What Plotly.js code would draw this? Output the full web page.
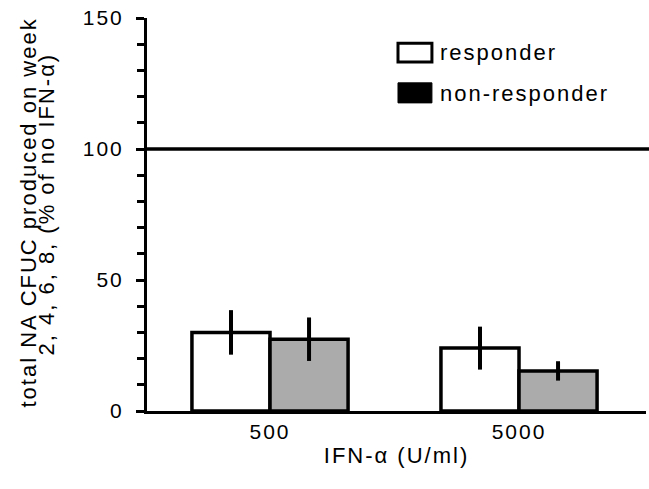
<!DOCTYPE html>
<html>
<head>
<meta charset="utf-8">
<script src="https://cdn.plot.ly/plotly-3.0.1.min.js"></script>
<style>
  html, body { margin: 0; padding: 0; background: #fff; }
  #chart { width: 649px; height: 489px; }
  svg text { letter-spacing: 2px !important; }
</style>
</head>
<body>
<div id="chart"></div>
<script>
// ---- data ----
const doses = ['500', '5000'];
const seriesNames = ['responder', 'non-responder'];
const responder = [30.0, 24.0];
const responderErr = [8.5, 8.2];
const nonResponder = [27.4, 15.3];
const nonResponderErr = [8.3, 3.7];
const yTickVals = [0, 50, 100, 150];
const referenceLevel = 100;
const yTitleLines = ['total NA CFUC produced on week', '2, 4, 6, 8, (% of no IFN-α)'];
const xTitle = 'IFN-α (U/ml)';

const FONT = 'Liberation Sans, Arial, Helvetica, sans-serif';

const traces = [
  {
    type: 'bar',
    name: seriesNames[0],
    x: doses,
    y: responder,
    error_y: { type: 'data', array: responderErr, visible: true, color: '#000', thickness: 4, width: 0 },
    marker: { color: '#ffffff', line: { color: '#000', width: 3.5 } },
    showlegend: false
  },
  {
    type: 'bar',
    name: seriesNames[1],
    x: doses,
    y: nonResponder,
    error_y: { type: 'data', array: nonResponderErr, visible: true, color: '#000', thickness: 4, width: 0 },
    marker: {
      color: '#a8a8a8',
      line: { color: '#000', width: 3.5 },
      pattern: { shape: '.', fgcolor: '#7a7a7a', bgcolor: '#d2d2d2', size: 2, solidity: 0.5 }
    },
    showlegend: false
  }
];

const layout = {
  width: 649,
  height: 489,
  margin: { l: 147, r: 3, t: 18, b: 78 },
  paper_bgcolor: '#fff',
  plot_bgcolor: '#fff',
  font: { family: FONT, color: '#000', size: 22 },
  barmode: 'group',
  bargap: 0.373,
  bargroupgap: 0,
  xaxis: {
    type: 'category',
    range: [-0.494, 1.51],
    showline: true, linecolor: '#000', linewidth: 3,
    ticks: '', showgrid: false, zeroline: false,
    tickfont: { family: FONT, size: 21 },
    ticklabelstandoff: 0,
    title: { text: xTitle, font: { family: FONT, size: 22 }, standoff: 6 }
  },
  yaxis: {
    range: [0, 150],
    tickvals: yTickVals,
    ticktext: yTickVals.map(String),
    showline: true, linecolor: '#000', linewidth: 3,
    ticks: 'outside', ticklen: 8, tickwidth: 3, tickcolor: '#000',
    minor: { dtick: 10, ticks: 'outside', ticklen: 7, tickwidth: 3, tickcolor: '#000', showgrid: false },
    showgrid: false, zeroline: false,
    tickfont: { family: FONT, size: 21 },
    ticklabelstandoff: 8
  },
  shapes: [
    { type: 'line', xref: 'paper', yref: 'y', x0: 0, x1: 1.01, y0: referenceLevel, y1: referenceLevel,
      line: { color: '#000', width: 3.5 } },
    // legend swatches
    { type: 'rect', xref: 'paper', yref: 'paper', x0: 0.503, x1: 0.571, y0: 0.888, y1: 0.936,
      line: { color: '#000', width: 3 }, fillcolor: '#fff' },
    { type: 'rect', xref: 'paper', yref: 'paper', x0: 0.503, x1: 0.571, y0: 0.784, y1: 0.835,
      line: { color: '#000', width: 1 }, fillcolor: '#000' }
  ],
  annotations: [
    { xref: 'paper', yref: 'paper', x: 0.583, y: 0.912, xanchor: 'left', yanchor: 'middle',
      text: seriesNames[0], showarrow: false, font: { family: FONT, size: 22 } },
    { xref: 'paper', yref: 'paper', x: 0.583, y: 0.809, xanchor: 'left', yanchor: 'middle',
      text: seriesNames[1], showarrow: false, font: { family: FONT, size: 22 } },
    { xref: 'paper', yref: 'paper', x: 0, y: 0.5, xshift: -119, yshift: 2, textangle: -90,
      xanchor: 'center', yanchor: 'middle',
      text: yTitleLines[0], showarrow: false, font: { family: FONT, size: 22 } },
    { xref: 'paper', yref: 'paper', x: 0, y: 0.5, xshift: -101, yshift: 10, textangle: -90,
      xanchor: 'center', yanchor: 'middle',
      text: yTitleLines[1], showarrow: false, font: { family: FONT, size: 22 } }
  ]
};

Plotly.newPlot('chart', traces, layout, { staticPlot: true, displayModeBar: false });
</script>
</body>
</html>
